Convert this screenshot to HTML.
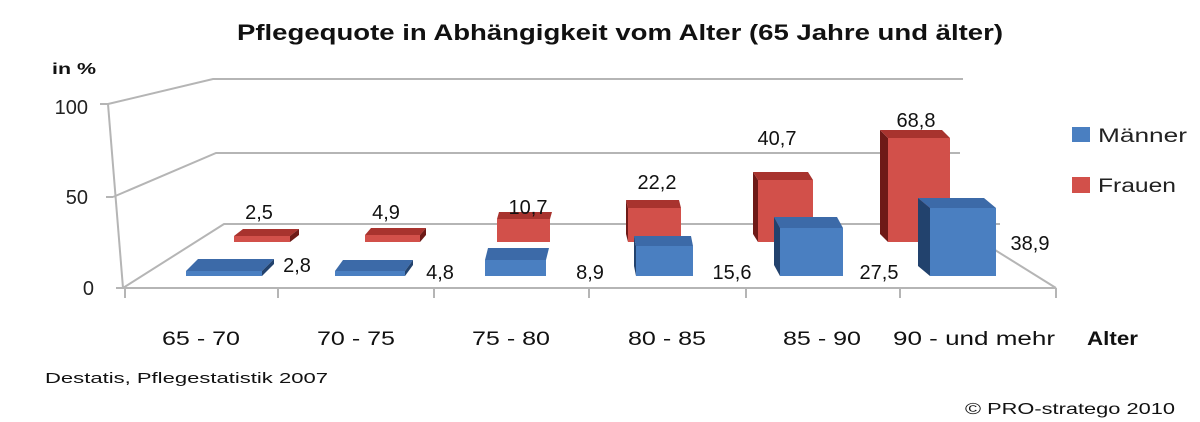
<!DOCTYPE html>
<html><head><meta charset="utf-8"><style>
html,body{margin:0;padding:0;background:#fff;}
svg{display:block;font-family:"Liberation Sans",sans-serif;}
</style></head><body>
<svg width="1200" height="422" viewBox="0 0 1200 422" xmlns="http://www.w3.org/2000/svg">
<rect width="1200" height="422" fill="#fff"/>
<text x="620" y="40" text-anchor="middle" font-size="22" font-weight="bold" fill="#111" textLength="766" lengthAdjust="spacingAndGlyphs">Pflegequote in Abhängigkeit vom Alter (65 Jahre und älter)</text>
<text x="52" y="74" font-size="16" font-weight="bold" fill="#111" textLength="44" lengthAdjust="spacingAndGlyphs">in %</text>
<!-- gridlines -->
<g stroke="#b5b5b5" stroke-width="2" fill="none">
<polyline points="108,104 213,79 963,79"/>
<polyline points="113,197 216,153 960,153"/>
<polyline points="123,288 224,224 1000,224"/>
<line x1="108" y1="104" x2="123" y2="288"/>
<line x1="123" y1="288" x2="1056" y2="288"/>
<line x1="995" y1="250" x2="1056" y2="288"/>
<line x1="100" y1="104" x2="108" y2="104"/>
<line x1="106" y1="197" x2="113" y2="197"/>
<line x1="116" y1="288" x2="123" y2="288"/>
<line x1="125" y1="288" x2="125" y2="298"/>
<line x1="278" y1="288" x2="278" y2="298"/>
<line x1="434" y1="288" x2="434" y2="298"/>
<line x1="589" y1="288" x2="589" y2="298"/>
<line x1="746" y1="288" x2="746" y2="298"/>
<line x1="900" y1="288" x2="900" y2="298"/>
<line x1="1056" y1="288" x2="1056" y2="298"/>
</g>
<g font-size="20" fill="#222" text-anchor="end">
<text x="88" y="114">100</text>
<text x="88" y="204">50</text>
<text x="94" y="295">0</text>
</g>
<!-- red bars -->
<g>
<rect x="234" y="236" width="56" height="6" fill="#d2504a"/>
<polygon points="234,236 290,236 299,229 243,229" fill="#a8332e"/>
<polygon points="290,236 299,229 299,235 290,242" fill="#6e1a17"/>
<rect x="365" y="235" width="55" height="7" fill="#d2504a"/>
<polygon points="365,235 420,235 426,228 371,228" fill="#a8332e"/>
<polygon points="420,235 426,228 426,235 420,242" fill="#6e1a17"/>
<rect x="497" y="219" width="53" height="23" fill="#d2504a"/>
<polygon points="497,219 550,219 552,212 499,212" fill="#a8332e"/>
<polygon points="628,208 626,200 626,234 628,242" fill="#6e1a17"/>
<rect x="628" y="208" width="53" height="34" fill="#d2504a"/>
<polygon points="628,208 681,208 679,200 626,200" fill="#a8332e"/>
<polygon points="758,180 753,172 753,234 758,242" fill="#6e1a17"/>
<rect x="758" y="180" width="55" height="62" fill="#d2504a"/>
<polygon points="758,180 813,180 808,172 753,172" fill="#a8332e"/>
<polygon points="888,138 880,130 880,234 888,242" fill="#6e1a17"/>
<rect x="888" y="138" width="62" height="104" fill="#d2504a"/>
<polygon points="888,138 950,138 942,130 880,130" fill="#a8332e"/>
</g>
<!-- blue bars -->
<g>
<rect x="186" y="271" width="76" height="5" fill="#4a7fc1"/>
<polygon points="186,271 262,271 274,259 198,259" fill="#3c6aa8"/>
<polygon points="262,271 274,259 274,264 262,276" fill="#22426d"/>
<rect x="335" y="271" width="70" height="5" fill="#4a7fc1"/>
<polygon points="335,271 405,271 413,260 343,260" fill="#3c6aa8"/>
<polygon points="405,271 413,260 413,265 405,276" fill="#22426d"/>
<rect x="485" y="260" width="61" height="16" fill="#4a7fc1"/>
<polygon points="485,260 546,260 549,248 488,248" fill="#3c6aa8"/>
<polygon points="636,246 634,236 634,266 636,276" fill="#22426d"/>
<rect x="636" y="246" width="57" height="30" fill="#4a7fc1"/>
<polygon points="636,246 693,246 691,236 634,236" fill="#3c6aa8"/>
<polygon points="780,228 774,217 774,265 780,276" fill="#22426d"/>
<rect x="780" y="228" width="63" height="48" fill="#4a7fc1"/>
<polygon points="780,228 843,228 837,217 774,217" fill="#3c6aa8"/>
<polygon points="930,208 918,198 918,266 930,276" fill="#22426d"/>
<rect x="930" y="208" width="66" height="68" fill="#4a7fc1"/>
<polygon points="930,208 996,208 984,198 918,198" fill="#3c6aa8"/>
</g>
<!-- data labels -->
<g font-size="20" fill="#111" text-anchor="middle">
<text x="259" y="219">2,5</text>
<text x="386" y="219">4,9</text>
<text x="528" y="214">10,7</text>
<text x="657" y="189">22,2</text>
<text x="777" y="145">40,7</text>
<text x="916" y="127">68,8</text>
<text x="297" y="272">2,8</text>
<text x="440" y="279">4,8</text>
<text x="590" y="279">8,9</text>
<text x="732" y="279">15,6</text>
<text x="879" y="279">27,5</text>
<text x="1030" y="250">38,9</text>
</g>
<!-- legend -->
<rect x="1072" y="127" width="18" height="15" fill="#4a7fc1"/>
<rect x="1072" y="177" width="18" height="16" fill="#d2504a"/>
<text x="1098" y="142" font-size="19" fill="#222" textLength="89" lengthAdjust="spacingAndGlyphs">Männer</text>
<text x="1098" y="192" font-size="19" fill="#222" textLength="78" lengthAdjust="spacingAndGlyphs">Frauen</text>
<!-- categories -->
<g font-size="19" fill="#111">
<text x="162" y="345" textLength="78" lengthAdjust="spacingAndGlyphs">65 - 70</text>
<text x="317" y="345" textLength="78" lengthAdjust="spacingAndGlyphs">70 - 75</text>
<text x="472" y="345" textLength="78" lengthAdjust="spacingAndGlyphs">75 - 80</text>
<text x="628" y="345" textLength="78" lengthAdjust="spacingAndGlyphs">80 - 85</text>
<text x="783" y="345" textLength="78" lengthAdjust="spacingAndGlyphs">85 - 90</text>
<text x="893" y="345" textLength="162" lengthAdjust="spacingAndGlyphs">90 - und mehr</text>
<text x="1087" y="345" font-weight="bold" textLength="51" lengthAdjust="spacingAndGlyphs">Alter</text>
</g>
<text x="45" y="383" font-size="15" fill="#111" textLength="283" lengthAdjust="spacingAndGlyphs">Destatis, Pflegestatistik 2007</text>
<text x="965" y="414" font-size="16" fill="#111" textLength="210" lengthAdjust="spacingAndGlyphs">© PRO-stratego 2010</text>
</svg>
</body></html>
